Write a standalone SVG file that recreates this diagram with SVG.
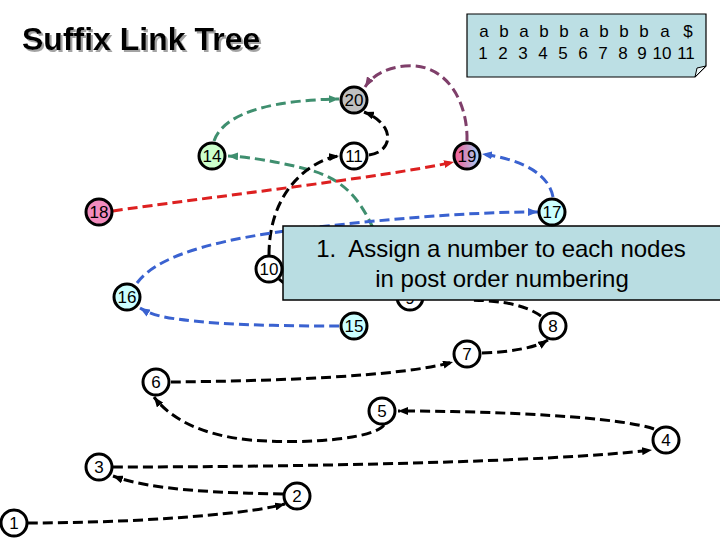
<svg xmlns="http://www.w3.org/2000/svg" width="720" height="540" viewBox="0 0 720 540">
<style>
text{font-family:"Liberation Sans",Arial,sans-serif;}
.n circle{stroke:#000;stroke-width:3;}
.n text{font-size:17px;text-anchor:middle;fill:#000;}
.e{fill:none;stroke-width:3;stroke-dasharray:10 5;}
.k{stroke:#000;}
.g{stroke:#3f8f6f;}
.b{stroke:#3a62d0;}
.r{stroke:#dd2020;}
.p{stroke:#7f3f6a;}
.s text{font-size:17px;text-anchor:middle;}
</style>
<defs>
<marker id="ak" viewBox="0 0 10 8" refX="10" refY="4" markerWidth="10" markerHeight="8" markerUnits="userSpaceOnUse" orient="auto"><path d="M0,0L10,4L0,8z" fill="#000"/></marker>
<marker id="ag" viewBox="0 0 10 8" refX="10" refY="4" markerWidth="10" markerHeight="8" markerUnits="userSpaceOnUse" orient="auto"><path d="M0,0L10,4L0,8z" fill="#3f8f6f"/></marker>
<marker id="ab" viewBox="0 0 10 8" refX="10" refY="4" markerWidth="10" markerHeight="8" markerUnits="userSpaceOnUse" orient="auto"><path d="M0,0L10,4L0,8z" fill="#3a62d0"/></marker>
<marker id="ar" viewBox="0 0 10 8" refX="10" refY="4" markerWidth="10" markerHeight="8" markerUnits="userSpaceOnUse" orient="auto"><path d="M0,0L10,4L0,8z" fill="#dd2020"/></marker>
<marker id="ap" viewBox="0 0 10 8" refX="10" refY="4" markerWidth="10" markerHeight="8" markerUnits="userSpaceOnUse" orient="auto"><path d="M0,0L10,4L0,8z" fill="#7f3f6a"/></marker>
<linearGradient id="g19" x1="0" y1="0" x2="1" y2="0"><stop offset="0.1" stop-color="#f0649a"/><stop offset="0.9" stop-color="#a8c8f0"/></linearGradient>
<filter id="sh" x="-5%" y="-20%" width="115%" height="150%"><feDropShadow dx="2" dy="2" stdDeviation="0.6" flood-color="#999" flood-opacity="0.9"/></filter>
</defs>

<text x="22" y="50" font-size="32" font-weight="bold" filter="url(#sh)">Suffix Link Tree</text>

<g id="string-box" class="s">
<path d="M467,14H706V66L695,77H467Z" fill="#bcdfe4" stroke="#000" stroke-width="1.2"/>
<path d="M706,66L695,77L697,68Z" fill="#eef7f8" stroke="#000" stroke-width="1"/>
<text y="37"><tspan x="484">a</tspan><tspan x="504">b</tspan><tspan x="524">a</tspan><tspan x="544">b</tspan><tspan x="564">b</tspan><tspan x="584">a</tspan><tspan x="604">b</tspan><tspan x="624">b</tspan><tspan x="644">b</tspan><tspan x="665">a</tspan><tspan x="688">$</tspan></text>
<text y="59"><tspan x="483">1</tspan><tspan x="503">2</tspan><tspan x="523">3</tspan><tspan x="543">4</tspan><tspan x="563">5</tspan><tspan x="583">6</tspan><tspan x="603">7</tspan><tspan x="623">8</tspan><tspan x="642">9</tspan><tspan x="662">10</tspan><tspan x="686">11</tspan></text>
</g>

<g id="connectors">
<path class="e p" d="M467,141C468,100 445,62 405,66C385,68 372,76 365,87" marker-end="url(#ap)"/>
<path class="e g" d="M214,141C225,110 280,100 339,99" marker-end="url(#ag)"/>
<path class="e k" d="M369,155C385,153 392,140 385,128C380,120 372,115 364,112" marker-end="url(#ak)"/>
<path class="e g" d="M373,228C360,200 345,180 310,170C280,162 250,157 228,156" marker-end="url(#ag)"/>
<path class="e r" d="M113,211C200,198 380,178 454,162" marker-end="url(#ar)"/>
<path class="e k" d="M269,255C269,215 285,185 310,168C320,161 330,157 339,156" marker-end="url(#ak)"/>
<path class="e b" d="M553,197C549,175 525,160 482,154" marker-end="url(#ab)"/>
<path class="e b" d="M137,283C160,252 230,238 300,229C380,220 460,212 538,212" marker-end="url(#ab)"/>
<path class="e b" d="M339,326C280,326 200,325 160,316C152,314 145,311 140,308" marker-end="url(#ab)"/>
<path class="e k" d="M279,279C285,285 295,290 310,292"/>
<path class="e k" d="M541,316C525,305 505,301 470,300"/>
<path class="e k" d="M482,353C510,352 535,348 548,340" marker-end="url(#ak)"/>
<path class="e k" d="M171,382C270,381 400,377 453,362" marker-end="url(#ak)"/>
<path class="e k" d="M384,425C375,438 310,445 250,440C200,435 170,418 154,397" marker-end="url(#ak)"/>
<path class="e k" d="M654,429C620,417 500,411 398,411" marker-end="url(#ak)"/>
<path class="e k" d="M113,467C300,467 550,462 652,450" marker-end="url(#ak)"/>
<path class="e k" d="M283,494C220,493 150,490 113,476" marker-end="url(#ak)"/>
<path class="e k" d="M28,523C120,523 240,516 285,504" marker-end="url(#ak)"/>
</g>

<g id="node-9" class="n"><circle cx="410" cy="297" r="13" fill="#fff"/><text x="410" y="304">9</text></g>

<g id="callout">
<rect x="283" y="226" width="440" height="74" fill="#b9dde2" stroke="#000" stroke-width="1.5"/>
<text x="501" y="257" font-size="24" text-anchor="middle" xml:space="preserve">1.  Assign a number to each nodes</text>
<text x="502" y="287" font-size="24" text-anchor="middle">in post order numbering</text>
</g>

<g id="node-20" class="n"><circle cx="354" cy="100" r="13" fill="#c0c0c0"/><text x="354" y="106">20</text></g>
<g id="node-14" class="n"><circle cx="212" cy="156" r="13" fill="#ccffcc"/><text x="212" y="162">14</text></g>
<g id="node-11" class="n"><circle cx="354" cy="156" r="13" fill="#fff"/><text x="354" y="162">11</text></g>
<g id="node-19" class="n"><circle cx="467" cy="156" r="13" fill="url(#g19)"/><text x="467" y="162">19</text></g>
<g id="node-18" class="n"><circle cx="99" cy="212" r="13" fill="#f28cbe"/><text x="99" y="218">18</text></g>
<g id="node-17" class="n"><circle cx="552" cy="212" r="13" fill="#ccffff"/><text x="552" y="218">17</text></g>
<g id="node-10" class="n"><circle cx="269" cy="269" r="13" fill="#fff"/><text x="269" y="275">10</text></g>
<g id="node-16" class="n"><circle cx="127" cy="297" r="13" fill="#ccffff"/><text x="127" y="303">16</text></g>
<g id="node-15" class="n"><circle cx="354" cy="326" r="13" fill="#ccffff"/><text x="354" y="332">15</text></g>
<g id="node-8" class="n"><circle cx="553" cy="326" r="13" fill="#fff"/><text x="553" y="332">8</text></g>
<g id="node-7" class="n"><circle cx="467" cy="354" r="13" fill="#fff"/><text x="467" y="360">7</text></g>
<g id="node-6" class="n"><circle cx="156" cy="382" r="13" fill="#fff"/><text x="156" y="388">6</text></g>
<g id="node-5" class="n"><circle cx="382" cy="411" r="13" fill="#fff"/><text x="382" y="417">5</text></g>
<g id="node-4" class="n"><circle cx="666" cy="440" r="13" fill="#fff"/><text x="666" y="446">4</text></g>
<g id="node-3" class="n"><circle cx="99" cy="467" r="13" fill="#fff"/><text x="99" y="473">3</text></g>
<g id="node-2" class="n"><circle cx="297" cy="496" r="13" fill="#fff"/><text x="297" y="502">2</text></g>
<g id="node-1" class="n"><circle cx="14" cy="523" r="13" fill="#fff"/><text x="14" y="529">1</text></g>
</svg>
